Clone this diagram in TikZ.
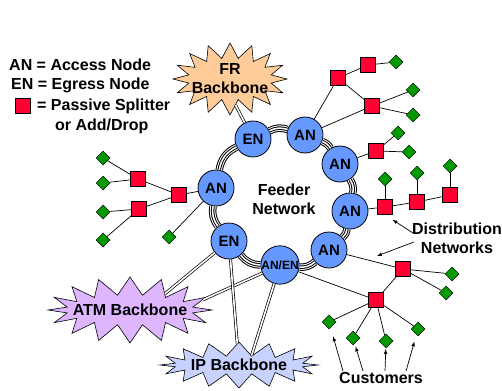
\documentclass[tikz,border=0pt]{standalone}
\usepackage{fontspec}
\setmainfont{Liberation Sans}
\usetikzlibrary{shapes.geometric,shapes.symbols}
\definecolor{nodeblue}{RGB}{102,153,255}
\definecolor{splitred}{RGB}{255,0,51}
\definecolor{custgreen}{RGB}{0,153,0}
\definecolor{frorange}{RGB}{255,204,153}
\definecolor{atmviolet}{RGB}{221,182,255}
\definecolor{ipblue}{RGB}{200,210,255}

\begin{document}
\begin{tikzpicture}[x=1pt,y=-1pt,
  font=\fontsize{16}{19}\selectfont\bfseries,
  every node/.style={inner sep=0pt},
  ring/.style={circle,draw,fill=nodeblue,minimum size=36pt,line width=0.8pt,
    font=\fontsize{15}{15}\selectfont\bfseries},
  splitter/.style={rectangle,draw,fill=splitred,minimum size=15pt,line width=0.6pt},
  customer/.style={diamond,draw,fill=custgreen,minimum size=14pt,line width=0.5pt},
  backbone/.style={starburst,draw,random starburst=0,line width=0.6pt},
  link/.style={line width=0.7pt},
  trunk/.style={double=white,double distance=1.6pt,line width=0.7pt},
  feeder/.style={line width=7.5pt,
    postaction={draw=white,line width=5.5pt},
    postaction={draw=black,line width=3.5pt},
    postaction={draw=white,line width=1.5pt}},
  arr/.style={-latex,line width=0.7pt}]
\useasboundingbox (0,0) rectangle (502,390);

% legend
\node[anchor=west] (keyan) at (9,65) {AN = Access Node};
\node[anchor=west] (keyen) at (11,85) {EN = Egress Node};
\node[splitter] (keysq) at (23,106) {};
\node[anchor=west] (keyps) at (37,106) {= Passive Splitter};
\node[anchor=west] (keyad) at (55,126) {or Add/Drop};

% backbones
\node[backbone,fill=frorange,minimum width=114pt,minimum height=72pt,
  starburst points=16,starburst point height=15pt,
  label={[align=center]center:FR\\Backbone}] (fr) at (230,79) {};
\node[backbone,fill=atmviolet,minimum width=164pt,minimum height=66pt,
  starburst points=16,starburst point height=18pt,
  label=center:ATM Backbone] (atm) at (130,310) {};
\node[backbone,fill=ipblue,minimum width=158pt,minimum height=46pt,
  starburst points=16,starburst point height=14pt,
  label=center:IP Backbone] (ip) at (239,365) {};

% feeder ring
\node[ring] (anW) at (216,188) {AN};
\node[ring] (enN) at (253,139) {EN};
\node[ring] (anN) at (305,135) {AN};
\node[ring] (anNE) at (340,164) {AN};
\node[ring] (anE) at (350,211) {AN};
\node[ring] (anSE) at (329,250) {AN};
\node[ring,font=\fontsize{12}{12}\selectfont\bfseries] (anen) at (280,265) {AN/EN};
\node[ring] (enSW) at (229,241) {EN};
\node[align=center] (feedlbl) at (284,199) {Feeder\\Network};

\foreach \a/\b/\bend in {anW/enN/27,enN/anN/22,anN/anNE/19,anNE/anE/21,
    anE/anSE/19,anSE/anen/23,anen/enSW/25,enSW/anW/23}
  \draw[feeder] (\a) to[bend left=\bend] (\b);

% trunks to the backbones
\draw[trunk] (enN) -- (fr.282);
\draw[trunk] (enSW) -- (atm.25);
\draw[trunk] (anen) -- (atm.8);
\draw[trunk] (enSW) -- (ip);
\draw[trunk] (anen) -- (ip.37);

% splitters
\node[splitter] (sA) at (338,78) {};
\node[splitter] (sB) at (368,65) {};
\node[splitter] (sC) at (372,106) {};
\node[splitter] (sD) at (376,151) {};
\node[splitter] (sE) at (385,207) {};
\node[splitter] (sF) at (417,202) {};
\node[splitter] (sG) at (450,195) {};
\node[splitter] (sH) at (403,269) {};
\node[splitter] (sI) at (376,300) {};
\node[splitter] (sJ) at (179,195) {};
\node[splitter] (sK) at (138,179) {};
\node[splitter] (sL) at (139,209) {};

% customers
\node[customer] (dB1) at (396,62) {};
\node[customer] (dC1) at (413,90) {};
\node[customer] (dC2) at (413,115) {};
\node[customer] (dD1) at (398,133) {};
\node[customer] (dD2) at (409,152) {};
\node[customer] (dE) at (385,179) {};
\node[customer] (dF) at (417,173) {};
\node[customer] (dG) at (450,166) {};
\node[customer] (dH1) at (452,274) {};
\node[customer] (dH2) at (446,293) {};
\node[customer] (dI1) at (329,322) {};
\node[customer] (dI2) at (353,338) {};
\node[customer] (dI3) at (386,341) {};
\node[customer] (dI4) at (418,329) {};
\node[customer] (dK1) at (103,158) {};
\node[customer] (dK2) at (103,183) {};
\node[customer] (dL1) at (103,212) {};
\node[customer] (dL2) at (103,240) {};
\node[customer] (dM) at (169,237) {};

% distribution links
\foreach \a/\b in {anN/sA,anN/sC,sA/sB,sA/sC,sB/dB1,sC/dC1,sC/dC2,
    anNE/sD,sD/dD1,sD/dD2,
    anE/sE,sE/sF,sF/sG,sE/dE,sF/dF,sG/dG,
    anSE/sH,sH/dH1,sH/dH2,sH/sI,
    anen/sI,sI/dI1,sI/dI2,sI/dI3,sI/dI4,
    anW/sJ,sJ/sK,sJ/sL,sK/dK1,sK/dK2,sL/dL1,sL/dL2,anW/dM}
  \draw[link] (\a) -- (\b);

% callouts
\node[align=center] (distlbl) at (457,238) {Distribution\\Networks};
\coordinate (distpt) at (377,256);
\draw[arr,shorten >=9pt] (distlbl.west) ++(1,-5) -- (sE.south);
\draw[arr] (distlbl.west) ++(2,4) -- (distpt);

\node (custlbl) at (381,378) {Customers};
\draw[arr,shorten >=9pt] (custlbl.north) ++(-38,-1) -- (dI1);
\draw[arr,shorten >=3pt] (custlbl.north) ++(-18,-1) -- (dI2);
\draw[arr,shorten >=1pt] (custlbl.north) ++(4,-1) -- (dI3);
\draw[arr,shorten >=7pt] (custlbl.north) ++(25,-1) -- (dI4);
\end{tikzpicture}
\end{document}
